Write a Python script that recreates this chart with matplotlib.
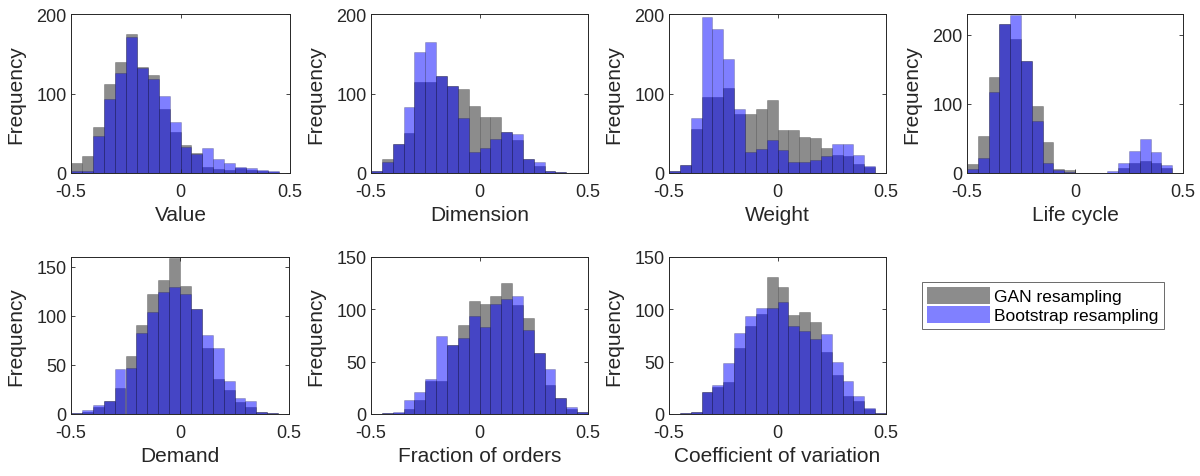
import matplotlib
matplotlib.use("Agg")
import matplotlib.pyplot as plt
from matplotlib.patches import Patch
import numpy as np

plt.rcParams['font.family'] = ['Liberation Sans', 'DejaVu Sans']

# 20 bins of width 0.05 on [-0.5, 0.5]
bin_edges = np.linspace(-0.5, 0.5, 21)

titles = ["Value", "Dimension", "Weight", "Life cycle",
          "Demand", "Fraction of orders", "Coefficient of variation"]

gan_value = [13, 22, 58, 112, 139, 175, 133, 123, 80, 52, 35, 25, 7, 5, 4, 6, 4, 3, 1, 0]
boot_value = [2, 2, 47, 93, 126, 171, 132, 118, 97, 64, 33, 24, 31, 18, 12, 8, 6, 4, 2, 0]

gan_dim = [3, 18, 36, 50, 114, 114, 122, 110, 106, 84, 70, 70, 51, 42, 18, 9, 3, 1, 0, 0]
boot_dim = [3, 14, 36, 83, 152, 165, 122, 110, 69, 26, 31, 43, 51, 49, 18, 14, 3, 1, 0, 0]

gan_weight = [2, 10, 55, 96, 96, 107, 74, 74, 81, 92, 54, 54, 45, 44, 32, 23, 22, 11, 7, 0]
boot_weight = [2, 10, 69, 196, 181, 143, 81, 27, 30, 41, 29, 14, 14, 16, 22, 36, 36, 23, 9, 0]

gan_life = [13, 54, 139, 215, 194, 162, 97, 45, 6, 5, 0, 0, 0, 0, 7, 14, 18, 14, 7, 0]
boot_life = [6, 21, 117, 215, 229, 162, 75, 15, 4, 2, 0, 0, 0, 3, 14, 32, 49, 31, 11, 0]

gan_demand = [1, 2, 7, 13, 27, 59, 91, 122, 137, 159, 130, 107, 67, 36, 24, 12, 7, 2, 1, 0]
boot_demand = [1, 4, 9, 13, 46, 47, 83, 104, 124, 129, 122, 107, 81, 67, 34, 16, 13, 2, 1, 0]

gan_frac = [0, 1, 1, 5, 13, 32, 32, 66, 85, 108, 105, 113, 125, 104, 92, 58, 28, 15, 5, 2]
boot_frac = [0, 1, 2, 13, 21, 33, 75, 66, 73, 94, 83, 105, 110, 113, 80, 58, 43, 15, 7, 2]

gan_cv = [0, 1, 2, 21, 26, 31, 63, 84, 96, 131, 121, 95, 97, 88, 59, 37, 17, 12, 5, 1]
boot_cv = [0, 1, 2, 21, 28, 49, 77, 94, 101, 101, 107, 84, 79, 72, 76, 50, 32, 17, 6, 1]

gan_sets = [gan_value, gan_dim, gan_weight, gan_life, gan_demand, gan_frac, gan_cv]
boot_sets = [boot_value, boot_dim, boot_weight, boot_life, boot_demand, boot_frac, boot_cv]

y_limits = [200, 200, 200, 230, 160, 150, 150]
y_ticks = [[0, 100, 200], [0, 100, 200], [0, 100, 200], [0, 100, 200],
           [0, 50, 100, 150], [0, 50, 100, 150], [0, 50, 100, 150]]

legend_labels = ["GAN resampling", "Bootstrap resampling"]

W, H = 1200, 477
fig = plt.figure(figsize=(12, 4.77), dpi=100)

# axes boxes in pixels: left, right, top, bottom
boxes = [
    (71, 290, 15, 174), (371, 588, 15, 174), (669, 886, 15, 174), (967, 1183, 15, 174),
    (71, 289, 258, 415), (371, 588, 258, 415), (669, 886, 258, 415),
]

gray = '#8c8c8c'
blue = (0, 0, 1, 0.5)
txt = '#262626'

for i, (l, r, t, b) in enumerate(boxes):
    ax = fig.add_axes([l / W, 1 - b / H, (r - l) / W, (b - t) / H])
    ax.hist(bin_edges[:-1], bins=bin_edges, weights=gan_sets[i],
            color=gray, edgecolor=(0, 0, 0, 0.25), linewidth=0.6)
    ax.hist(bin_edges[:-1], bins=bin_edges, weights=boot_sets[i],
            color=blue, edgecolor=(0, 0, 0, 0.2), linewidth=0.6)
    ax.set_xlim(-0.5, 0.5)
    ax.set_ylim(0, y_limits[i])
    ax.set_xticks([-0.5, 0, 0.5])
    ax.set_xticklabels(['-0.5', '0', '0.5'])
    ax.set_yticks(y_ticks[i])
    ax.tick_params(direction='in', top=True, right=True, length=3, width=0.6,
                   labelsize=13, colors=txt)
    ax.tick_params(axis='x', pad=7)
    ax.tick_params(axis='y', pad=3)
    for sp in ax.spines.values():
        sp.set_color(txt)
        sp.set_linewidth(0.7)
    ax.set_xlabel(titles[i], fontsize=15, color=txt, labelpad=4)
    ax.set_ylabel('Frequency', fontsize=15, color=txt, labelpad=8)

handles = [Patch(facecolor=gray, edgecolor='none'),
           Patch(facecolor='#8080ff', edgecolor='none')]
leg = fig.legend(handles, legend_labels, loc='upper left',
                 bbox_to_anchor=(922 / W, 1 - 283 / H), fontsize=12.5,
                 frameon=True, fancybox=False, handlelength=3.6, handleheight=1.1,
                 handletextpad=0.25, borderpad=0.3, labelspacing=0.1,
                 borderaxespad=0)
leg.get_frame().set_edgecolor('#444444')
leg.get_frame().set_linewidth(0.7)

fig.savefig('out.png', dpi=100)
